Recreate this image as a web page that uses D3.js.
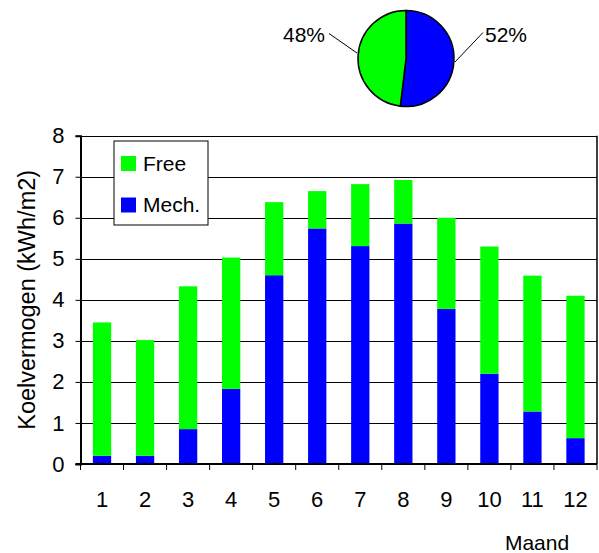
<!DOCTYPE html>
<html>
<head>
<meta charset="utf-8">
<script src="https://cdn.jsdelivr.net/npm/d3@7"></script>
<style>
  body { margin: 0; background: #fff; }
  svg { display: block; font-family: "Liberation Sans", Arial, sans-serif; }
</style>
</head>
<body>
<div id="chart"></div>
<script>
// maanden en waarden (kWh/m2)
const months = ["1", "2", "3", "4", "5", "6", "7", "8", "9", "10", "11", "12"];
const mech = [0.20, 0.20, 0.85, 1.83, 4.60, 5.74, 5.31, 5.86, 3.78, 2.20, 1.28, 0.63];
const free = [3.25, 2.82, 3.48, 3.20, 1.78, 0.91, 1.51, 1.06, 2.22, 3.10, 3.31, 3.47];
const yTicks = [0, 1, 2, 3, 4, 5, 6, 7, 8];
const keys = ["Mech.", "Free"];
const colors = { "Mech.": "#0000ff", "Free": "#00ff00" };

const W = 599, H = 553;
const plot = { left: 80.5, right: 597, top: 135.7, bottom: 464 };

const svg = d3.select("#chart").append("svg")
  .attr("width", W).attr("height", H);

const x = d3.scaleBand().domain(months).range([plot.left, plot.right]).padding(0);
const y = d3.scaleLinear().domain([0, 8]).range([plot.bottom, plot.top]);
const barW = x.bandwidth() * 0.425;

// grid lines
svg.append("g")
  .selectAll("line")
  .data(yTicks.slice(1))
  .join("line")
  .attr("x1", plot.left).attr("x2", plot.right)
  .attr("y1", d => Math.round(y(d)) + 0.5).attr("y2", d => Math.round(y(d)) + 0.5)
  .attr("stroke", "#000").attr("stroke-width", 1);

// right border
svg.append("line")
  .attr("x1", plot.right).attr("x2", plot.right)
  .attr("y1", y(8)).attr("y2", y(0))
  .attr("stroke", "#000").attr("stroke-width", 1.5);

// stacked bars
const rows = months.map((m, i) => ({ month: m, "Mech.": mech[i], "Free": free[i] }));
const stacked = d3.stack().keys(keys)(rows);

svg.append("g")
  .selectAll("g")
  .data(stacked)
  .join("g")
  .attr("fill", d => colors[d.key])
  .selectAll("rect")
  .data(d => d)
  .join("rect")
  .attr("x", d => x(d.data.month) + (x.bandwidth() - barW) / 2)
  .attr("width", barW)
  .attr("y", d => y(d[1]))
  .attr("height", d => y(d[0]) - y(d[1]));

// y axis
const yAxis = svg.append("g")
  .attr("transform", `translate(${plot.left},0)`)
  .call(d3.axisLeft(y).tickValues(yTicks).tickSize(5).tickPadding(11).tickFormat(d3.format("d")));
yAxis.select(".domain").attr("stroke", "#000").attr("stroke-width", 2);
yAxis.selectAll(".tick line").attr("stroke", "#000");
yAxis.selectAll("text").attr("font-size", 22).attr("fill", "#000");

// x axis line
svg.append("line")
  .attr("x1", plot.left - 5).attr("x2", plot.right)
  .attr("y1", plot.bottom).attr("y2", plot.bottom)
  .attr("stroke", "#000").attr("stroke-width", 2);

// x ticks at category boundaries
const bounds = months.map(m => x(m)).concat([plot.right]);
svg.append("g")
  .selectAll("line")
  .data(bounds)
  .join("line")
  .attr("x1", d => d).attr("x2", d => d)
  .attr("y1", plot.bottom).attr("y2", plot.bottom + 6)
  .attr("stroke", "#000");

svg.append("g")
  .selectAll("text")
  .data(months)
  .join("text")
  .attr("x", d => x(d) + x.bandwidth() / 2)
  .attr("y", 506.5)
  .attr("text-anchor", "middle")
  .attr("font-size", 22)
  .text(d => d);

// axis titles
svg.append("text")
  .attr("transform", `translate(35,${(plot.top + plot.bottom) / 2 + 0}) rotate(-90)`)
  .attr("text-anchor", "middle")
  .attr("font-size", 23.5)
  .text("Koelvermogen (kWh/m2)");

svg.append("text")
  .attr("x", 537).attr("y", 550)
  .attr("text-anchor", "middle")
  .attr("font-size", 21)
  .text("Maand");

// legend
const legend = svg.append("g").attr("transform", "translate(114,141)");
legend.append("rect")
  .attr("width", 94).attr("height", 84)
  .attr("fill", "#fff").attr("stroke", "#000");
["Free", "Mech."].forEach((k, i) => {
  const row = legend.append("g").attr("transform", `translate(7,${15 + i * 41.5})`);
  row.append("rect").attr("width", 15).attr("height", 15).attr("fill", colors[k]);
  row.append("text").attr("x", 22).attr("y", 14.5).attr("font-size", 21).text(k);
});

// pie: totaal Mech. vs Free
const pieData = [
  { key: "Mech.", value: d3.sum(mech) },
  { key: "Free", value: d3.sum(free) }
];
const total = d3.sum(pieData, d => d.value);
const cx = 406, cy = 58.5, r = 48;
const arcs = d3.pie().sort(null).value(d => d.value)(pieData);
const pie = svg.append("g").attr("transform", `translate(${cx},${cy})`);
pie.selectAll("path")
  .data(arcs)
  .join("path")
  .attr("d", d3.arc().innerRadius(0).outerRadius(r))
  .attr("fill", d => colors[d.data.key])
  .attr("stroke", "#000").attr("stroke-width", 1.5);

const pct = d3.format(".0%");
// leader lines and labels
const labelPos = {
  "Mech.": { line: [[49, 3.5], [77, -26]], text: [79, -16.5], anchor: "start" },
  "Free": { line: [[-49, -5.5], [-77, -25]], text: [-81, -16.5], anchor: "end" }
};
arcs.forEach(a => {
  const p = labelPos[a.data.key];
  pie.append("line")
    .attr("x1", p.line[0][0]).attr("y1", p.line[0][1])
    .attr("x2", p.line[1][0]).attr("y2", p.line[1][1])
    .attr("stroke", "#000");
  pie.append("text")
    .attr("x", p.text[0]).attr("y", p.text[1])
    .attr("text-anchor", p.anchor)
    .attr("font-size", 21)
    .text(pct(a.data.value / total));
});
</script>
</body>
</html>
